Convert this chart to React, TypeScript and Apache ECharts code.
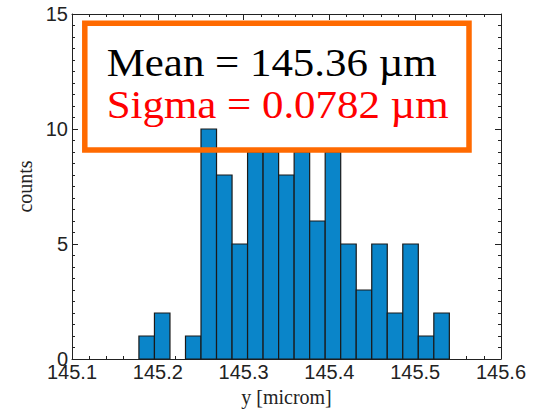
import React, { useEffect, useRef } from "react";
import * as echarts from "echarts";

// Histogram definition
const binStart = 145.178;
const binWidth = 0.01809;
const counts = [1, 2, 0, 1, 10, 8, 5, 9, 9, 8, 9, 6, 9, 5, 3, 5, 2, 5, 1, 2];

const xMin = 145.1;
const xMax = 145.6;
const xStep = 0.1;
const yMin = 0;
const yMax = 15;
const yStep = 5;

const meanText = "Mean = 145.36 \u00B5m";
const sigmaText = "Sigma = 0.0782 \u00B5m";
const xTitle = "y [microm]";
const yTitle = "counts";

const sans = "'Liberation Sans', Arial, Helvetica, sans-serif";
const serif = "'Liberation Serif', 'Times New Roman', Times, serif";
const axisColor = "#222";

export default function App() {
  const ref = useRef<HTMLDivElement>(null);
  useEffect(() => {
    document.body.style.margin = "0";
    const chart = echarts.init(ref.current!, null, { renderer: "svg" });
    const data = counts.map((c, i) => [binStart + i * binWidth, binStart + (i + 1) * binWidth, c]);
    const commonX = {
      type: "value" as const,
      min: xMin,
      max: xMax,
      interval: xStep,
      splitLine: { show: false },
      axisLine: { show: true, onZero: false, lineStyle: { color: axisColor, width: 1 } },
      axisTick: { show: true, inside: true, length: 6, lineStyle: { color: axisColor } },
      minorTick: { show: true, splitNumber: 5, length: 3, lineStyle: { color: axisColor } },
    };
    const commonY = {
      type: "value" as const,
      min: yMin,
      max: yMax,
      interval: yStep,
      splitLine: { show: false },
      axisLine: { show: true, onZero: false, lineStyle: { color: axisColor, width: 1 } },
      axisTick: { show: true, inside: true, length: 6, lineStyle: { color: axisColor } },
      minorTick: { show: true, splitNumber: 10, length: 3, lineStyle: { color: axisColor } },
    };
    chart.setOption({
      animation: false,
      grid: { left: 72, right: 40, top: 14, bottom: 50, containLabel: false, outerBoundsMode: "none" },
      xAxis: [
        {
          ...commonX,
          position: "bottom",
          axisLabel: {
            show: true,
            margin: 3,
            fontFamily: sans,
            fontSize: 20,
            color: axisColor,
            formatter: (v: number) => v.toFixed(1),
          },
          name: xTitle,
          nameLocation: "middle",
          nameGap: 27,
          nameTextStyle: { fontFamily: serif, fontSize: 20, color: axisColor },
        },
        { ...commonX, position: "top", axisLabel: { show: false } },
      ],
      yAxis: [
        {
          ...commonY,
          position: "left",
          axisLabel: { show: true, margin: 4, fontFamily: sans, fontSize: 20, color: axisColor },
          name: yTitle,
          nameLocation: "middle",
          nameGap: 33,
          nameTextStyle: { fontFamily: serif, fontSize: 20, color: axisColor },
        },
        { ...commonY, position: "right", axisLabel: { show: false } },
      ],
      series: [
        {
          type: "custom",
          xAxisIndex: 0,
          yAxisIndex: 0,
          data,
          encode: { x: [0, 1], y: 2 },
          renderItem: (params: any, api: any) => {
            const x0 = api.value(0);
            const x1 = api.value(1);
            const v = api.value(2);
            if (!v) return null;
            const p0 = api.coord([x0, 0]);
            const p1 = api.coord([x1, v]);
            return {
              type: "rect",
              shape: { x: p0[0], y: p1[1], width: p1[0] - p0[0], height: p0[1] - p1[1] },
              style: { fill: "#0a85c9", stroke: "#1a1a1a", lineWidth: 1.2 },
            };
          },
        },
      ],
      graphic: [
        {
          type: "rect",
          z: 100,
          shape: { x: 84.8, y: 23.3, width: 384.2, height: 126.7 },
          style: { fill: "none", stroke: "#ff6a00", lineWidth: 5.5 },
        },
        {
          type: "text",
          z: 101,
          x: 106.7,
          y: 82,
          scaleX: 1.1,
          style: {
            text: meanText,
            fill: "#000",
            font: `39px ${serif}`,
            verticalAlign: "bottom",
          },
        },
        {
          type: "text",
          z: 101,
          x: 106.7,
          y: 124,
          scaleX: 1.1,
          style: {
            text: sigmaText,
            fill: "#ff0000",
            font: `39px ${serif}`,
            verticalAlign: "bottom",
          },
        },
      ],
    });
    return () => chart.dispose();
  }, []);
  return <div ref={ref} style={{ width: 541, height: 409 }} />;
}
